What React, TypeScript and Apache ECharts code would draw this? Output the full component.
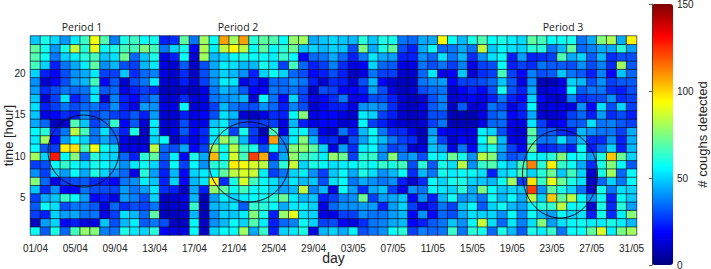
import React, { useEffect, useRef } from "react";
import * as echarts from "echarts";

const aprilDays = ["01","02","03","04","05","06","07","08","09","10","11","12","13","14","15","16","17","18","19","20","21","22","23","24","25","26","27","28","29","30"].map((d) => d + "/04");
const mayDays = ["01","02","03","04","05","06","07","08","09","10","11","12","13","14","15","16","17","18","19","20","21","22","23","24","25","26","27","28","29","30","31"].map((d) => d + "/05");
const days = [...aprilDays, ...mayDays];
const hours = ["1","2","3","4","5","6","7","8","9","10","11","12","13","14","15","16","17","18","19","20","21","22","23","24"];
const colorbarTicks = [0, 50, 100, 150];
const jet = ["#00007f","#0000ff","#007fff","#00ffff","#7fff7f","#ffff00","#ff7f00","#ff0000","#7f0000"];

const h1 = [58,32,60,34,66,78,76,38,36,60,53,50,62,19,15,15,57,10,50,56,56,80,44,64,23,50,53,60,15,46,50,44,54,30,36,40,57,62,28,38,34,36,64,36,62,59,34,60,46,32,60,54,64,36,57,57,70,88,54,74,80];
const h2 = [10,42,50,19,23,15,15,48,30,46,54,32,36,30,10,10,56,10,40,46,57,50,68,54,23,34,38,57,50,28,30,19,15,25,36,38,44,46,19,23,32,36,48,40,56,86,52,34,53,38,52,76,42,52,56,58,54,54,60,54,46];
const h3 = [28,23,50,42,44,36,36,15,28,52,46,34,70,10,10,12,46,8,40,50,48,54,76,60,23,78,90,52,50,15,15,28,28,40,36,36,42,46,19,40,19,34,30,44,52,50,50,40,57,38,58,46,42,57,50,52,23,59,25,54,76];
const h4 = [32,57,52,30,36,36,32,15,34,25,30,28,36,10,12,12,64,8,46,48,53,32,64,62,56,44,53,54,50,15,34,40,40,42,42,23,42,50,28,15,23,36,28,48,56,32,50,58,46,42,56,62,64,84,56,58,12,60,25,62,42];
const h5 = [28,44,48,64,56,42,19,23,15,42,38,30,50,10,12,15,46,8,42,54,50,54,56,58,62,72,54,46,48,23,28,38,40,72,28,42,44,48,19,40,23,46,58,40,44,36,58,46,57,44,84,50,102,70,84,56,40,58,23,57,48];
const h6 = [48,25,40,19,19,36,30,30,28,42,36,42,53,25,23,10,44,23,78,70,58,66,57,57,50,42,46,84,38,46,15,57,42,25,44,48,28,15,40,36,56,53,50,62,44,74,57,48,50,48,122,40,70,60,50,36,12,59,36,52,50];
const h7 = [76,34,15,28,30,32,25,23,19,36,40,54,48,23,50,19,46,53,96,25,60,88,66,56,52,44,53,46,48,30,52,56,36,44,40,36,40,23,12,25,57,50,59,60,50,48,46,58,80,28,98,64,90,72,60,52,10,34,50,36,56];
const h8 = [40,28,50,42,57,44,60,50,40,34,15,62,42,23,46,19,50,54,56,70,84,88,86,54,28,36,50,54,40,28,48,56,44,60,52,40,46,57,25,46,36,59,54,57,57,52,23,50,53,66,50,62,72,48,66,50,12,60,80,34,56];
const h9 = [28,30,57,64,57,52,59,56,50,40,53,58,50,28,57,28,56,40,62,62,96,92,88,84,36,62,86,50,60,56,52,54,56,60,57,64,60,66,30,62,32,60,52,84,40,64,68,54,48,66,112,62,96,64,58,44,25,60,76,57,32];
const h10 = [80,50,128,57,76,34,62,52,50,34,23,62,70,32,54,19,60,44,104,57,88,66,122,106,23,44,78,66,62,54,78,72,28,62,64,40,76,38,42,30,57,54,72,59,40,84,76,40,30,34,58,54,62,76,56,58,42,60,102,72,50];
const h11 = [56,32,28,96,98,66,92,57,50,15,15,15,84,34,30,44,19,28,80,58,84,64,60,30,56,40,76,78,70,50,15,42,25,54,56,40,28,32,12,15,48,42,15,36,19,52,60,44,28,19,72,23,25,30,23,57,23,34,50,23,46];
const h12 = [53,80,19,42,56,50,36,44,36,15,12,12,50,57,10,23,15,23,53,80,70,46,25,19,108,38,54,76,46,23,25,12,30,42,54,46,36,28,25,10,46,28,12,19,15,57,78,46,15,15,66,36,36,52,36,46,25,25,40,23,44];
const h13 = [56,62,25,36,84,66,36,52,34,23,60,10,53,12,15,32,19,25,54,59,28,59,28,8,66,15,54,56,36,15,12,36,23,46,57,36,25,25,15,8,42,19,15,15,15,54,50,30,15,12,70,32,32,25,23,46,40,36,36,28,44];
const h14 = [44,34,10,12,68,48,28,36,64,19,32,12,54,12,12,30,15,15,48,54,38,30,25,28,28,15,46,23,15,19,19,12,15,56,28,23,15,12,10,12,28,36,8,8,8,15,34,34,15,15,53,28,15,19,32,32,52,36,38,32,28];
const h15 = [48,15,19,25,23,40,28,34,28,25,32,23,42,12,12,23,15,19,30,52,46,12,10,15,25,23,56,76,15,19,19,15,12,54,50,28,23,12,10,12,30,30,8,8,8,15,32,36,19,23,44,12,12,15,28,34,23,42,25,30,23];
const h16 = [52,23,28,36,30,34,36,28,40,23,15,42,40,15,15,56,12,15,28,46,36,32,30,40,34,23,38,30,12,19,23,23,15,40,42,38,25,12,10,15,32,38,10,32,12,15,36,30,15,23,56,12,15,15,15,40,19,52,30,50,28];
const h17 = [48,12,28,52,23,32,54,12,38,23,19,30,38,12,12,25,12,15,36,40,42,46,12,56,36,19,50,28,15,19,25,36,15,19,30,30,23,12,10,12,30,38,12,15,19,15,23,36,23,19,50,19,12,12,38,25,28,30,40,25,28];
const h18 = [42,25,30,36,34,36,52,32,34,15,23,28,25,10,10,12,10,15,36,46,42,32,19,19,36,34,36,30,10,30,28,19,19,23,42,30,15,10,12,30,34,36,12,19,23,19,30,59,30,23,44,12,15,19,57,32,36,36,25,23,30];
const h19 = [40,12,19,30,42,46,66,19,32,12,30,36,54,12,12,23,12,28,40,54,53,15,23,15,34,34,40,36,23,12,25,23,12,30,46,19,12,10,10,36,40,42,19,28,28,30,34,48,32,15,40,8,8,15,50,46,30,40,28,32,32];
const h20 = [50,23,19,30,40,44,53,28,28,48,25,34,38,15,12,25,10,30,42,50,46,40,23,50,57,50,34,30,19,23,30,23,10,15,36,28,28,12,12,34,53,15,19,48,12,25,28,66,28,19,38,30,32,48,36,32,23,38,19,48,34];
const h21 = [66,50,23,36,44,54,70,40,46,30,28,46,53,15,12,32,10,30,44,54,52,46,46,59,52,28,66,34,23,28,38,25,15,19,50,34,32,15,15,36,30,36,28,38,15,28,30,57,23,28,25,36,32,32,30,40,30,38,25,80,32];
const h22 = [68,58,36,50,54,62,66,48,52,72,34,48,60,15,23,57,12,80,46,50,56,60,56,57,54,64,56,19,34,36,44,34,23,36,53,44,42,23,23,40,34,52,36,46,25,40,52,57,23,42,23,25,28,68,44,50,32,46,25,30,30];
const h23 = [70,59,41,60,85,62,90,56,60,66,66,75,66,36,50,59,19,82,54,84,94,84,57,70,56,62,72,48,50,46,50,48,30,74,44,60,70,30,23,44,57,34,36,44,36,85,48,56,52,50,62,62,36,46,70,34,38,44,44,62,42];
const h24 = [48,60,51,41,54,65,92,68,38,60,65,57,59,23,25,70,36,80,57,108,80,108,62,70,68,57,78,80,44,48,51,48,46,62,48,60,59,36,34,44,44,94,57,46,60,68,57,60,54,51,70,66,57,58,59,36,44,76,82,44,95];
const byHour = [h1,h2,h3,h4,h5,h6,h7,h8,h9,h10,h11,h12,h13,h14,h15,h16,h17,h18,h19,h20,h21,h22,h23,h24];

const periods = ["Period 1", "Period 2", "Period 3"];

export default function App() {
  const ref = useRef<HTMLDivElement>(null);
  useEffect(() => {
    const chart = echarts.init(ref.current!, undefined, { renderer: "svg" });
    const cells: number[][] = [];
    byHour.forEach((row, y) => row.forEach((v, x) => cells.push([x, y, v])));
    const textColor = "#222";
    const font = "Liberation Sans";
    chart.setOption({
      animation: false,
      backgroundColor: "#fff",
      textStyle: { fontFamily: font },
      grid: [
        { left: 30.5, top: 36, width: 606, height: 199, outerBoundsMode: "none" },
        { left: 652, top: 4, width: 21, height: 261, show: false, outerBoundsMode: "none" },
      ],
      xAxis: [
        {
          type: "category", data: days, gridIndex: 0,
          axisLine: { show: false }, axisTick: { show: false }, splitLine: { show: false },
          axisLabel: { interval: 3, color: textColor, fontSize: 10, margin: 8, hideOverlap: false },
          name: "day", nameLocation: "middle", nameGap: 16, nameMoveOverlap: false,
          nameTextStyle: { fontSize: 14, color: textColor },
        },
        { type: "value", gridIndex: 1, min: 0, max: 1, show: false },
      ],
      yAxis: [
        {
          type: "category", data: hours, gridIndex: 0,
          axisLine: { show: false }, axisTick: { show: false }, splitLine: { show: false },
          axisLabel: { interval: (i: number) => (i + 1) % 5 === 0, color: textColor, fontSize: 10, margin: 5 },
          name: "time [hour]", nameLocation: "middle", nameGap: 16, nameMoveOverlap: false,
          nameTextStyle: { fontSize: 13, color: textColor },
        },
        {
          type: "value", gridIndex: 1, position: "right", min: colorbarTicks[0], max: colorbarTicks[3], interval: 50, z: 10,
          axisLine: { show: true, lineStyle: { color: "#333", width: 0.8 } },
          axisTick: { show: true, inside: true, length: 3, lineStyle: { color: "#333", width: 0.8 } },
          splitLine: { show: false },
          axisLabel: { color: textColor, fontSize: 10, margin: 4 },
          name: "# coughs detected", nameLocation: "middle", nameGap: 23, nameMoveOverlap: false, nameRotate: 90,
          nameTextStyle: { fontSize: 13, color: textColor },
        },
      ],
      visualMap: {
        type: "continuous", min: 0, max: 150, seriesIndex: 0, calculable: false,
        left: 652, top: 4, itemWidth: 21, itemHeight: 261, padding: 0,
        text: ["", ""], inRange: { color: jet }, hoverLink: false,
      },
      series: [
        {
          type: "heatmap", data: cells, xAxisIndex: 0, yAxisIndex: 0,
          itemStyle: { borderColor: "rgba(10,20,40,0.75)", borderWidth: 0.9 },
        },
      ],
      graphic: [
        { type: "text", x: 82, y: 27, style: { text: periods[0], fontSize: 10.5, fontFamily: "Open Sans", fill: "#222", textAlign: "center", textVerticalAlign: "middle" } },
        { type: "text", x: 238, y: 27, style: { text: periods[1], fontSize: 10.5, fontFamily: "Open Sans", fill: "#222", textAlign: "center", textVerticalAlign: "middle" } },
        { type: "text", x: 563, y: 27, style: { text: periods[2], fontSize: 10.5, fontFamily: "Open Sans", fill: "#222", textAlign: "center", textVerticalAlign: "middle" } },
        { type: "ellipse", shape: { cx: 83.5, cy: 151, rx: 35.5, ry: 36 }, style: { fill: "none", stroke: "#0a0a28", lineWidth: 1 }, z: 20 },
        { type: "ellipse", shape: { cx: 249, cy: 162, rx: 40, ry: 40 }, style: { fill: "none", stroke: "#0a0a28", lineWidth: 1 }, z: 20 },
        { type: "ellipse", shape: { cx: 560, cy: 174, rx: 37.5, ry: 44 }, style: { fill: "none", stroke: "#0a0a28", lineWidth: 1 }, z: 20 },
      ],
    });
    return () => chart.dispose();
  }, []);
  return <div ref={ref} style={{ position: "absolute", left: 0, top: 0, width: 711, height: 269 }} />;
}
